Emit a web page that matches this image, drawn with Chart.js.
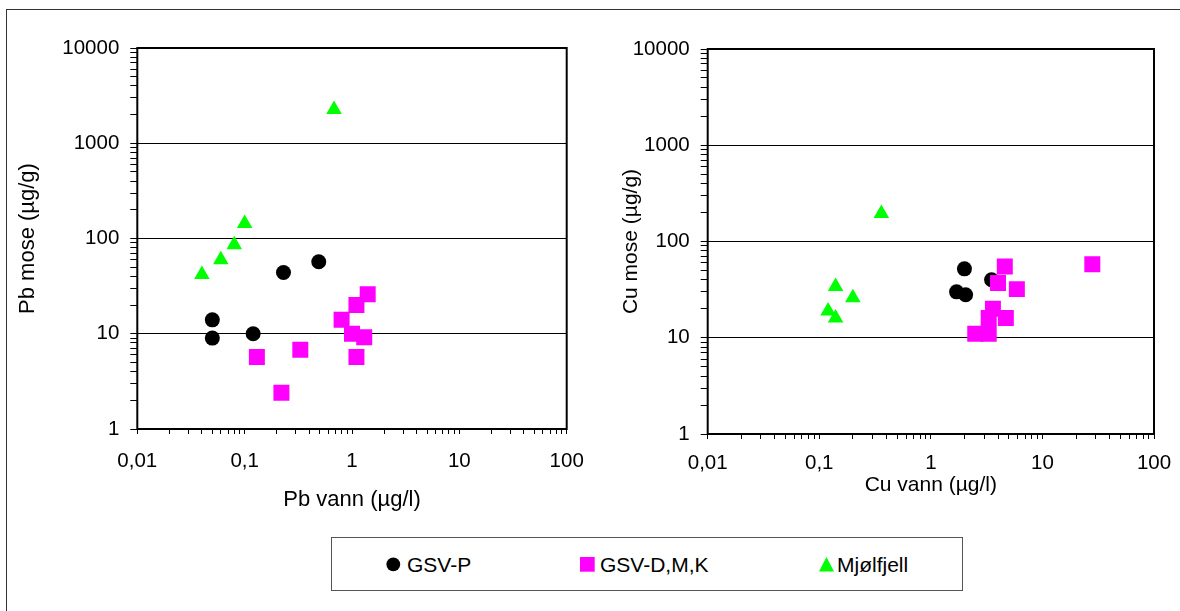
<!DOCTYPE html>
<html>
<head>
<meta charset="utf-8">
<script src="https://cdn.jsdelivr.net/npm/chart.js@4.4.0/dist/chart.umd.min.js"></script>
<style>
html,body{margin:0;padding:0;background:#fff;}
body{width:1180px;height:611px;position:relative;overflow:hidden;font-family:'Liberation Sans',Arial,sans-serif;}
#frame{position:absolute;left:6px;top:9px;width:1200px;height:700px;border-top:1.5px solid #333;border-left:1.5px solid #333;}
.wrap{position:absolute;top:0;width:590px;height:520px;}
#legend{position:absolute;left:331px;top:537px;width:632px;height:54px;border:1.5px solid #555;box-sizing:border-box;background:#fff;}
.mk{position:absolute;}
.lt{position:absolute;top:0;height:51px;line-height:53px;font-size:21px;color:#000;white-space:nowrap;}
</style>
</head>
<body>
<div id="frame"></div>
<div class="wrap" style="left:0"><canvas id="pb" width="590" height="520"></canvas></div>
<div class="wrap" style="left:590px"><canvas id="cu" width="590" height="520"></canvas></div>
<div id="legend">
  <svg class="mk" style="left:54px;top:19px" width="15" height="15"><circle cx="7.3" cy="7.3" r="6.9" fill="#000"/></svg>
  <span class="lt" style="left:75px">GSV-P</span>
  <svg class="mk" style="left:248px;top:19px" width="15" height="15"><rect x="0" y="0" width="14.7" height="14.7" fill="#FF00FF"/></svg>
  <span class="lt" style="left:268px">GSV-D,M,K</span>
  <svg class="mk" style="left:487px;top:19px" width="16" height="15"><polygon points="7.5,0 15,14.5 0,14.5" fill="#00FF00"/></svg>
  <span class="lt" style="left:505px">Mjølfjell</span>
</div>
<script>
// axis decades and tick labels
const xDecades = [0.01, 0.1, 1, 10, 100];
const xTickLabels = ['0,01', '0,1', '1', '10', '100'];
const yDecades = [1, 10, 100, 1000, 10000];
const yTickLabels = ['1', '10', '100', '1000', '10000'];
const gridValues = [10, 100, 1000];

// Pb chart
const pbGsvPVann = [0.05, 0.05, 0.12, 0.23, 0.49];
const pbGsvPMose = [14, 9, 10, 44, 57];
const pbGsvDMKVann = [1.4, 1.1, 0.8, 1.0, 1.3, 1.1, 0.33, 0.13, 0.22];
const pbGsvDMKMose = [26, 20, 14, 10, 9.2, 5.7, 6.8, 5.7, 2.4];
const pbMjolfjellVann = [0.68, 0.1, 0.08, 0.06, 0.04];
const pbMjolfjellMose = [2260, 144, 86, 60, 42];

// Cu chart
const cuGsvPVann = [2.0, 3.5, 1.7, 2.05];
const cuGsvPMose = [52, 40, 30, 28];
const cuGsvDMKVann = [4.6, 4.0, 5.9, 28, 3.6, 3.3, 4.7, 2.5, 3.3];
const cuGsvDMKMose = [55, 37, 32, 58, 20, 16, 16, 11, 11];
const cuMjolfjellVann = [0.36, 0.14, 0.2, 0.12, 0.14];
const cuMjolfjellMose = [195, 34, 26, 19, 16];

const FONT = "'Liberation Sans', Arial, sans-serif";

function zip(xs, ys) { return xs.map((x, i) => ({x: x, y: ys[i]})); }
function logTicks(decades) {
  const out = [];
  decades.forEach((d, i) => {
    if (i < decades.length - 1) {
      for (let k = 1; k < 10; k++) out.push({value: Number((d * k).toPrecision(4)), major: k === 1});
    } else out.push({value: d, major: true});
  });
  return out;
}
function labeler(decades, labels) {
  return (v) => {
    const i = decades.findIndex(d => Math.abs(Math.log10(d) - Math.log10(v)) < 1e-6);
    return i >= 0 ? labels[i] : '';
  };
}
function noPad(s) { s.paddingLeft = 0; s.paddingRight = 0; s.paddingTop = 0; s.paddingBottom = 0; }
const framePlugin = {
  id: 'plotFrame',
  afterDraw(chart) {
    const a = chart.chartArea, c = chart.ctx;
    c.save();
    c.strokeStyle = '#000';
    c.lineWidth = 2;
    c.strokeRect(a.left, a.top, a.right - a.left, a.bottom - a.top);
    c.restore();
  }
};

function makeChart(id, cfg) {
  return new Chart(document.getElementById(id), {
    type: 'scatter',
    data: {datasets: [
      {label: 'Mjølfjell', data: zip(cfg.mjX, cfg.mjY), pointStyle: 'triangle', pointRadius: 9, pointHoverRadius: 9, backgroundColor: '#00FF00', borderColor: '#00FF00', borderWidth: 0},
      {label: 'GSV-D,M,K', data: zip(cfg.dmkX, cfg.dmkY), pointStyle: 'rect', pointRadius: 11.3, pointHoverRadius: 11.3, backgroundColor: '#FF00FF', borderColor: '#FF00FF', borderWidth: 0},
      {label: 'GSV-P', data: zip(cfg.pX, cfg.pY), pointStyle: 'circle', pointRadius: 7.5, pointHoverRadius: 7.5, backgroundColor: '#000000', borderColor: '#000000', borderWidth: 0}
    ]},
    options: {
      responsive: false, animation: false, devicePixelRatio: 1, events: [],
      layout: {padding: cfg.pad},
      plugins: {legend: {display: false}, tooltip: {enabled: false}},
      scales: {
        x: {
          type: 'logarithmic', min: xDecades[0], max: xDecades[xDecades.length - 1],
          afterBuildTicks: s => { s.ticks = logTicks(xDecades); },
          afterFit: s => { s.height = cfg.xH; noPad(s); },
          ticks: {autoSkip: false, maxRotation: 0, minRotation: 0, padding: cfg.xPad, color: '#000', font: {family: FONT, size: 20.5}, callback: labeler(xDecades, xTickLabels)},
          grid: {drawOnChartArea: false, color: 'rgba(0,0,0,0)', tickColor: '#000', tickLength: 5, tickWidth: 1},
          border: {display: false},
          title: {display: true, text: cfg.xTitle, color: '#000', font: {family: FONT, size: cfg.titleSize}, padding: {top: 0, bottom: cfg.xTitlePad}}
        },
        y: {
          type: 'logarithmic', min: yDecades[0], max: yDecades[yDecades.length - 1],
          afterBuildTicks: s => { s.ticks = logTicks(yDecades); },
          afterFit: s => { s.width = cfg.yW; noPad(s); },
          ticks: {autoSkip: false, padding: 11, color: '#000', font: {family: FONT, size: 20.5}, callback: labeler(yDecades, yTickLabels)},
          grid: {color: ctx => (ctx.tick && gridValues.some(g => Math.abs(g - ctx.tick.value) < 1e-6)) ? '#000' : 'rgba(0,0,0,0)', tickColor: '#000', tickLength: 7, tickWidth: 1, lineWidth: 1},
          border: {display: false},
          title: {display: true, text: cfg.yTitle, color: '#000', font: {family: FONT, size: cfg.titleSize}, padding: {top: cfg.yTitlePad, bottom: 0}}
        }
      }
    },
    plugins: [framePlugin]
  });
}

makeChart('pb', {
  pX: pbGsvPVann, pY: pbGsvPMose, dmkX: pbGsvDMKVann, dmkY: pbGsvDMKMose, mjX: pbMjolfjellVann, mjY: pbMjolfjellMose,
  pad: {left: 0, right: 23.3, top: 48, bottom: 0}, yW: 137.3, xH: 91, xPad: 15.4,
  xTitle: 'Pb vann (µg/l)', yTitle: 'Pb mose (µg/g)', titleSize: 22, xTitlePad: 6.8, yTitlePad: 14.8
});
makeChart('cu', {
  pX: cuGsvPVann, pY: cuGsvPMose, dmkX: cuGsvDMKVann, dmkY: cuGsvDMKMose, mjX: cuMjolfjellVann, mjY: cuMjolfjellMose,
  pad: {left: 0, right: 26, top: 49, bottom: 0}, yW: 117.7, xH: 86, xPad: 12,
  xTitle: 'Cu vann (µg/l)', yTitle: 'Cu mose (µg/g)', titleSize: 21, xTitlePad: 22.4, yTitlePad: 28.4
});
</script>
</body>
</html>
